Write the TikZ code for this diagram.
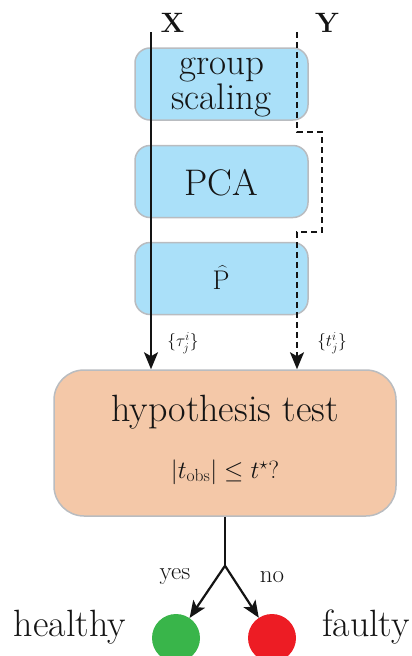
\documentclass[tikz,border=0pt]{standalone}
\usepackage{fontspec}
\usetikzlibrary{arrows.meta,calc}
\definecolor{boxblue}{RGB}{170,224,249}
\definecolor{boxpeach}{RGB}{244,200,168}
\definecolor{boxgray}{RGB}{185,188,192}
\definecolor{okgreen}{RGB}{57,181,74}
\definecolor{badred}{RGB}{237,28,36}
\definecolor{ink}{RGB}{20,20,20}
\tikzset{
  procbox/.style={draw=boxgray, line width=1.5pt, fill=boxblue, rounded corners=15pt,
    minimum width=173pt, minimum height=72pt, inner sep=0pt},
  boxtxt/.style={font=\fontsize{37}{35}\selectfont, text=ink, inner sep=0pt, align=center},
  testbox/.style={draw=boxgray, line width=1.5pt, fill=boxpeach, rounded corners=30pt,
    minimum width=342pt, minimum height=146pt, inner sep=0pt},
  flow/.style={draw=ink, line width=2.2pt, -{Stealth[length=17pt,width=14pt,inset=4pt]}},
  dflow/.style={flow, dash pattern=on 6pt off 4pt},
  bigtxt/.style={font=\fontsize{38}{42}\selectfont, text=ink, inner sep=0pt},
  smalltxt/.style={font=\fontsize{18}{20}\selectfont, text=ink, inner sep=0pt},
  branchtxt/.style={font=\fontsize{25}{28}\selectfont, text=ink, inner sep=0pt},
  axislbl/.style={font=\fontsize{28}{30}\selectfont\bfseries, text=ink, inner sep=0pt},
  dot/.style={circle, minimum size=48pt, inner sep=0pt},
}
\begin{document}
\begin{tikzpicture}[x=1pt,y=-1pt]
\useasboundingbox (0,0) rectangle (412,656);
\clip (0,0) rectangle (412,656);
% boxes
\node[procbox] (gs) at (221.5,84) {};
\node[boxtxt] (gstxt) at (221.5,88) {group\\scaling};
\node[procbox] (pca) at (221.5,181.5) {};
\node[boxtxt] (pcatxt) at (221.5,183) {PCA};
\node[procbox] (ph) at (221.5,278.5) {};
\node[text=ink, inner sep=0pt, font=\fontsize{27}{29}\selectfont, anchor=base] (phtxt) at (221,289) {P};
\node[text=ink, inner sep=0pt, font=\fontsize{15}{17}\selectfont, anchor=base] (phhat) at (222.5,262) {\raisebox{-14pt}[0pt][0pt]{\^{}}};
\node[testbox] (hyp) at (225,443) {};
\node[bigtxt] (hyptxt) at (225,412) {hypothesis test};
\node[font=\fontsize{25}{28}\selectfont, text=ink, inner sep=0pt] (cond) at (225,472) {$|t_{\mathrm{obs}}|\leq t^{\star}?$};
% input coordinates
\coordinate (xtop) at (151,32);
\coordinate (ytop) at (297,32);
\coordinate (j1) at (297,132);
\coordinate (j2) at (322,132);
\coordinate (j3) at (322,232);
\coordinate (j4) at (297,232);
\node[axislbl] (xl) at (172.5,23) {X};
\node[axislbl] (yl) at (327,23) {Y};
% connectors
\draw[flow] (xtop) -- (xtop |- hyp.north);
\draw[dflow] (ytop) -- (j1) -- (j2) -- (j3) -- (j4) -- (j4 |- hyp.north);
\node[smalltxt] (tau) at (183,343) {$\{\tau_j^i\}$};
\node[smalltxt] (tt) at (332,343) {$\{t_j^i\}$};
% outcome
\coordinate (split) at ($(hyp.south)+(0,49)$);
\node[dot, fill=okgreen] (g) at (176,638) {};
\node[dot, fill=badred] (r) at (272,638) {};
\draw[draw=ink, line width=2.2pt] (hyp.south) -- (split);
\draw[flow] (split) -- (g);
\draw[flow] (split) -- (r);
\node[branchtxt] (yes) at (175,577) {yes};
\node[branchtxt] (no) at (272,577) {no};
\node[bigtxt] (hl) at (70,627) {healthy};
\node[bigtxt] (fl) at (366,627) {faulty};
\end{tikzpicture}
\end{document}
